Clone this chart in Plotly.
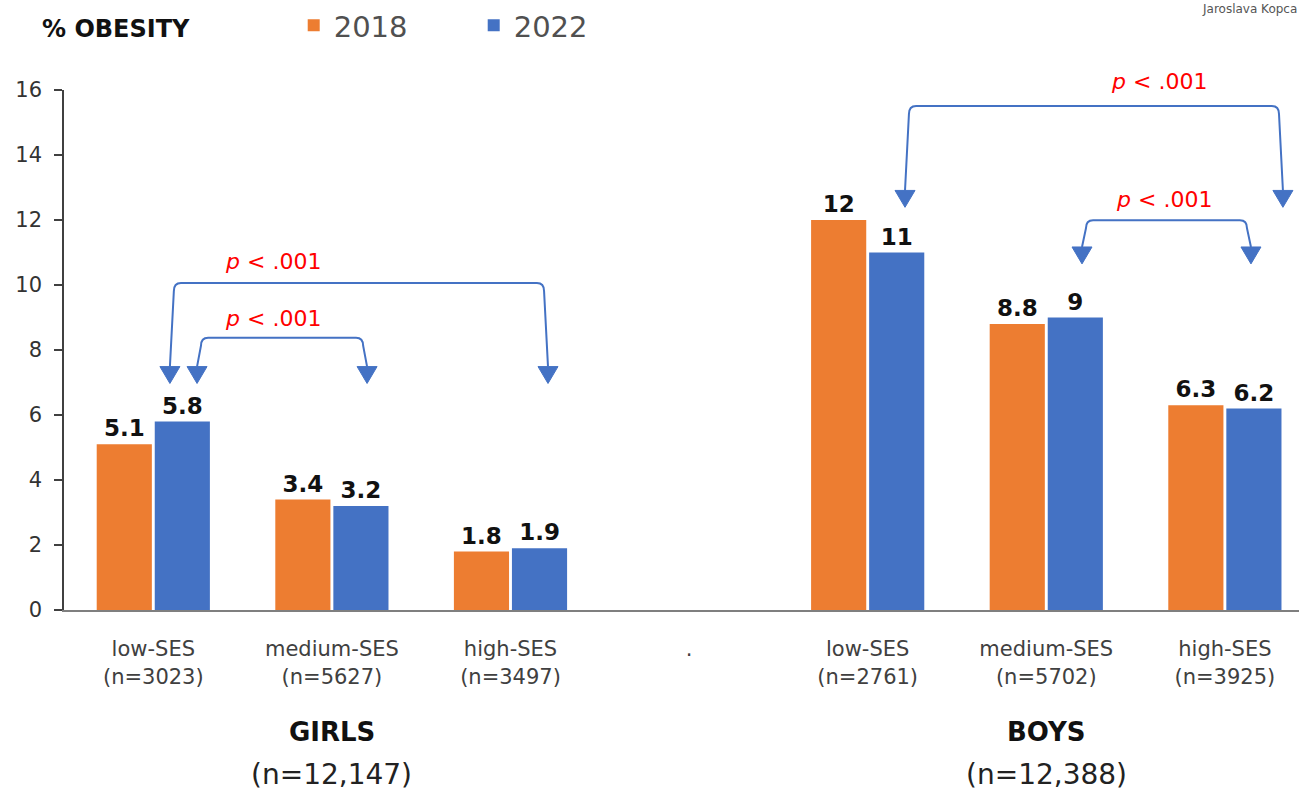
import plotly.graph_objects as go

# ---------------- data ----------------
categories = [
    "low-SES<br>(n=3023)", "medium-SES<br>(n=5627)", "high-SES<br>(n=3497)",
    ".",
    "low-SES<br>(n=2761)", "medium-SES<br>(n=5702)", "high-SES<br>(n=3925)",
]
values_2018 = [5.1, 3.4, 1.8, None, 12, 8.8, 6.3]
values_2022 = [5.8, 3.2, 1.9, None, 11, 9, 6.2]
series_names = ["2018", "2022"]
group_labels = ["GIRLS", "BOYS"]
group_ns = ["(n=12,147)", "(n=12,388)"]
group_centers = [1, 5]  # category index of each group's centre

# significance brackets: (left x, right x, bracket height, arrow tip value)
brackets = [
    (0.093, 2.21, 10.06, 6.97),
    (0.245, 1.197, 8.38, 6.97),
    (4.209, 6.325, 15.51, 12.39),
    (5.20, 6.146, 11.99, 10.65),
]
p_labels = [(0.67, 10.71), (0.67, 8.96), (5.63, 16.27), (5.66, 12.63)]
p_text = "<i>p</i> < .001"
Y_MAX = 16

ORANGE = "#ED7D31"
BLUE = "#4472C4"
FONT = "DejaVu Sans"
x_pos = list(range(len(categories)))

fig = go.Figure()
for name, vals, col in [(series_names[0], values_2018, ORANGE), (series_names[1], values_2022, BLUE)]:
    fig.add_trace(go.Bar(
        x=x_pos, y=vals, name=name, marker_color=col, marker_line_width=0,
        text=[("" if v is None else f"{v:g}") for v in vals],
        textposition="outside", cliponaxis=False,
        textfont=dict(family=FONT, size=23, color="#111111", weight="bold"),
    ))

# brackets with arrows
shapes = []
hw, ah, rx, ry, ins = 0.056, 0.52, 0.04, 0.25, 0.022
for xl, xr, yh, yt in brackets:
    top = yt + ah
    lx, rxp = xl + ins, xr - ins
    path = (f"M {xl},{top} L {lx},{yh - ry} Q {lx},{yh} {lx + rx},{yh} "
            f"L {rxp - rx},{yh} Q {rxp},{yh} {rxp},{yh - ry} L {xr},{top}")
    shapes.append(dict(type="path", path=path, xref="x", yref="y",
                       line=dict(color=BLUE, width=2)))
    for xa in (xl, xr):
        tri = f"M {xa - hw},{top} L {xa + hw},{top} L {xa},{yt} Z"
        shapes.append(dict(type="path", path=tri, xref="x", yref="y",
                           fillcolor=BLUE, line=dict(color=BLUE, width=1)))

annotations = []
for (px, py) in p_labels:
    annotations.append(dict(x=px, y=py / Y_MAX, xref="x", yref="y domain", text=p_text,
                            showarrow=False, yanchor="middle",
                            font=dict(family=FONT, size=22, color="#FF0000")))
for gc, gl, gn in zip(group_centers, group_labels, group_ns):
    annotations.append(dict(x=gc, y=-0.2352, xref="x", yref="paper", text=gl, showarrow=False,
                            yanchor="middle",
                            font=dict(family=FONT, size=26, color="#111111", weight="bold")))
    annotations.append(dict(x=gc, y=-0.3155, xref="x", yref="paper", text=gn, showarrow=False,
                            yanchor="middle",
                            font=dict(family=FONT, size=28, color="#222222")))
annotations.append(dict(x=-0.0194, y=1.118, xref="paper", yref="paper", text="% OBESITY",
                        showarrow=False, xanchor="left", yanchor="middle",
                        font=dict(family=FONT, size=24, color="#111111", weight="bold")))
annotations.append(dict(x=1.0, y=1.155, xref="paper", yref="paper", text="Jaroslava Kopca",
                        showarrow=False, xanchor="right", yanchor="middle",
                        font=dict(family=FONT, size=12, color="#555555")))

fig.update_layout(
    width=1299, height=795,
    margin=dict(l=64, r=0, t=87, b=185),
    paper_bgcolor="white", plot_bgcolor="white",
    barmode="group", bargap=0.35, bargroupgap=0.05,
    shapes=shapes, annotations=annotations,
    legend=dict(orientation="h", x=0.186, y=1.124, xanchor="left", yanchor="middle",
                font=dict(family=FONT, size=29, color="#505050"),
                itemwidth=30, entrywidth=135, bgcolor="rgba(0,0,0,0)"),
    font=dict(family=FONT, color="#404040"),
)
fig.update_xaxes(
    tickmode="array", tickvals=x_pos, ticktext=categories,
    range=[-0.5, 6.415], showline=True, linecolor="#7f7f7f", linewidth=2,
    showgrid=False, zeroline=False, ticks="", ticklabelstandoff=19,
    tickfont=dict(family=FONT, size=21, color="#404040"),
)
fig.update_yaxes(
    range=[0, Y_MAX], dtick=2, showline=True, linecolor="#404040", linewidth=1.5,
    ticks="outside", ticklen=8, tickcolor="#404040", tickwidth=1.5,
    showgrid=False, zeroline=False, ticklabelstandoff=8,
    tickfont=dict(family=FONT, size=21, color="#333333"),
)

fig.write_html("out.html", config={"displayModeBar": False},
               post_script="document.body.style.margin='0px';document.body.style.overflow='hidden';")
